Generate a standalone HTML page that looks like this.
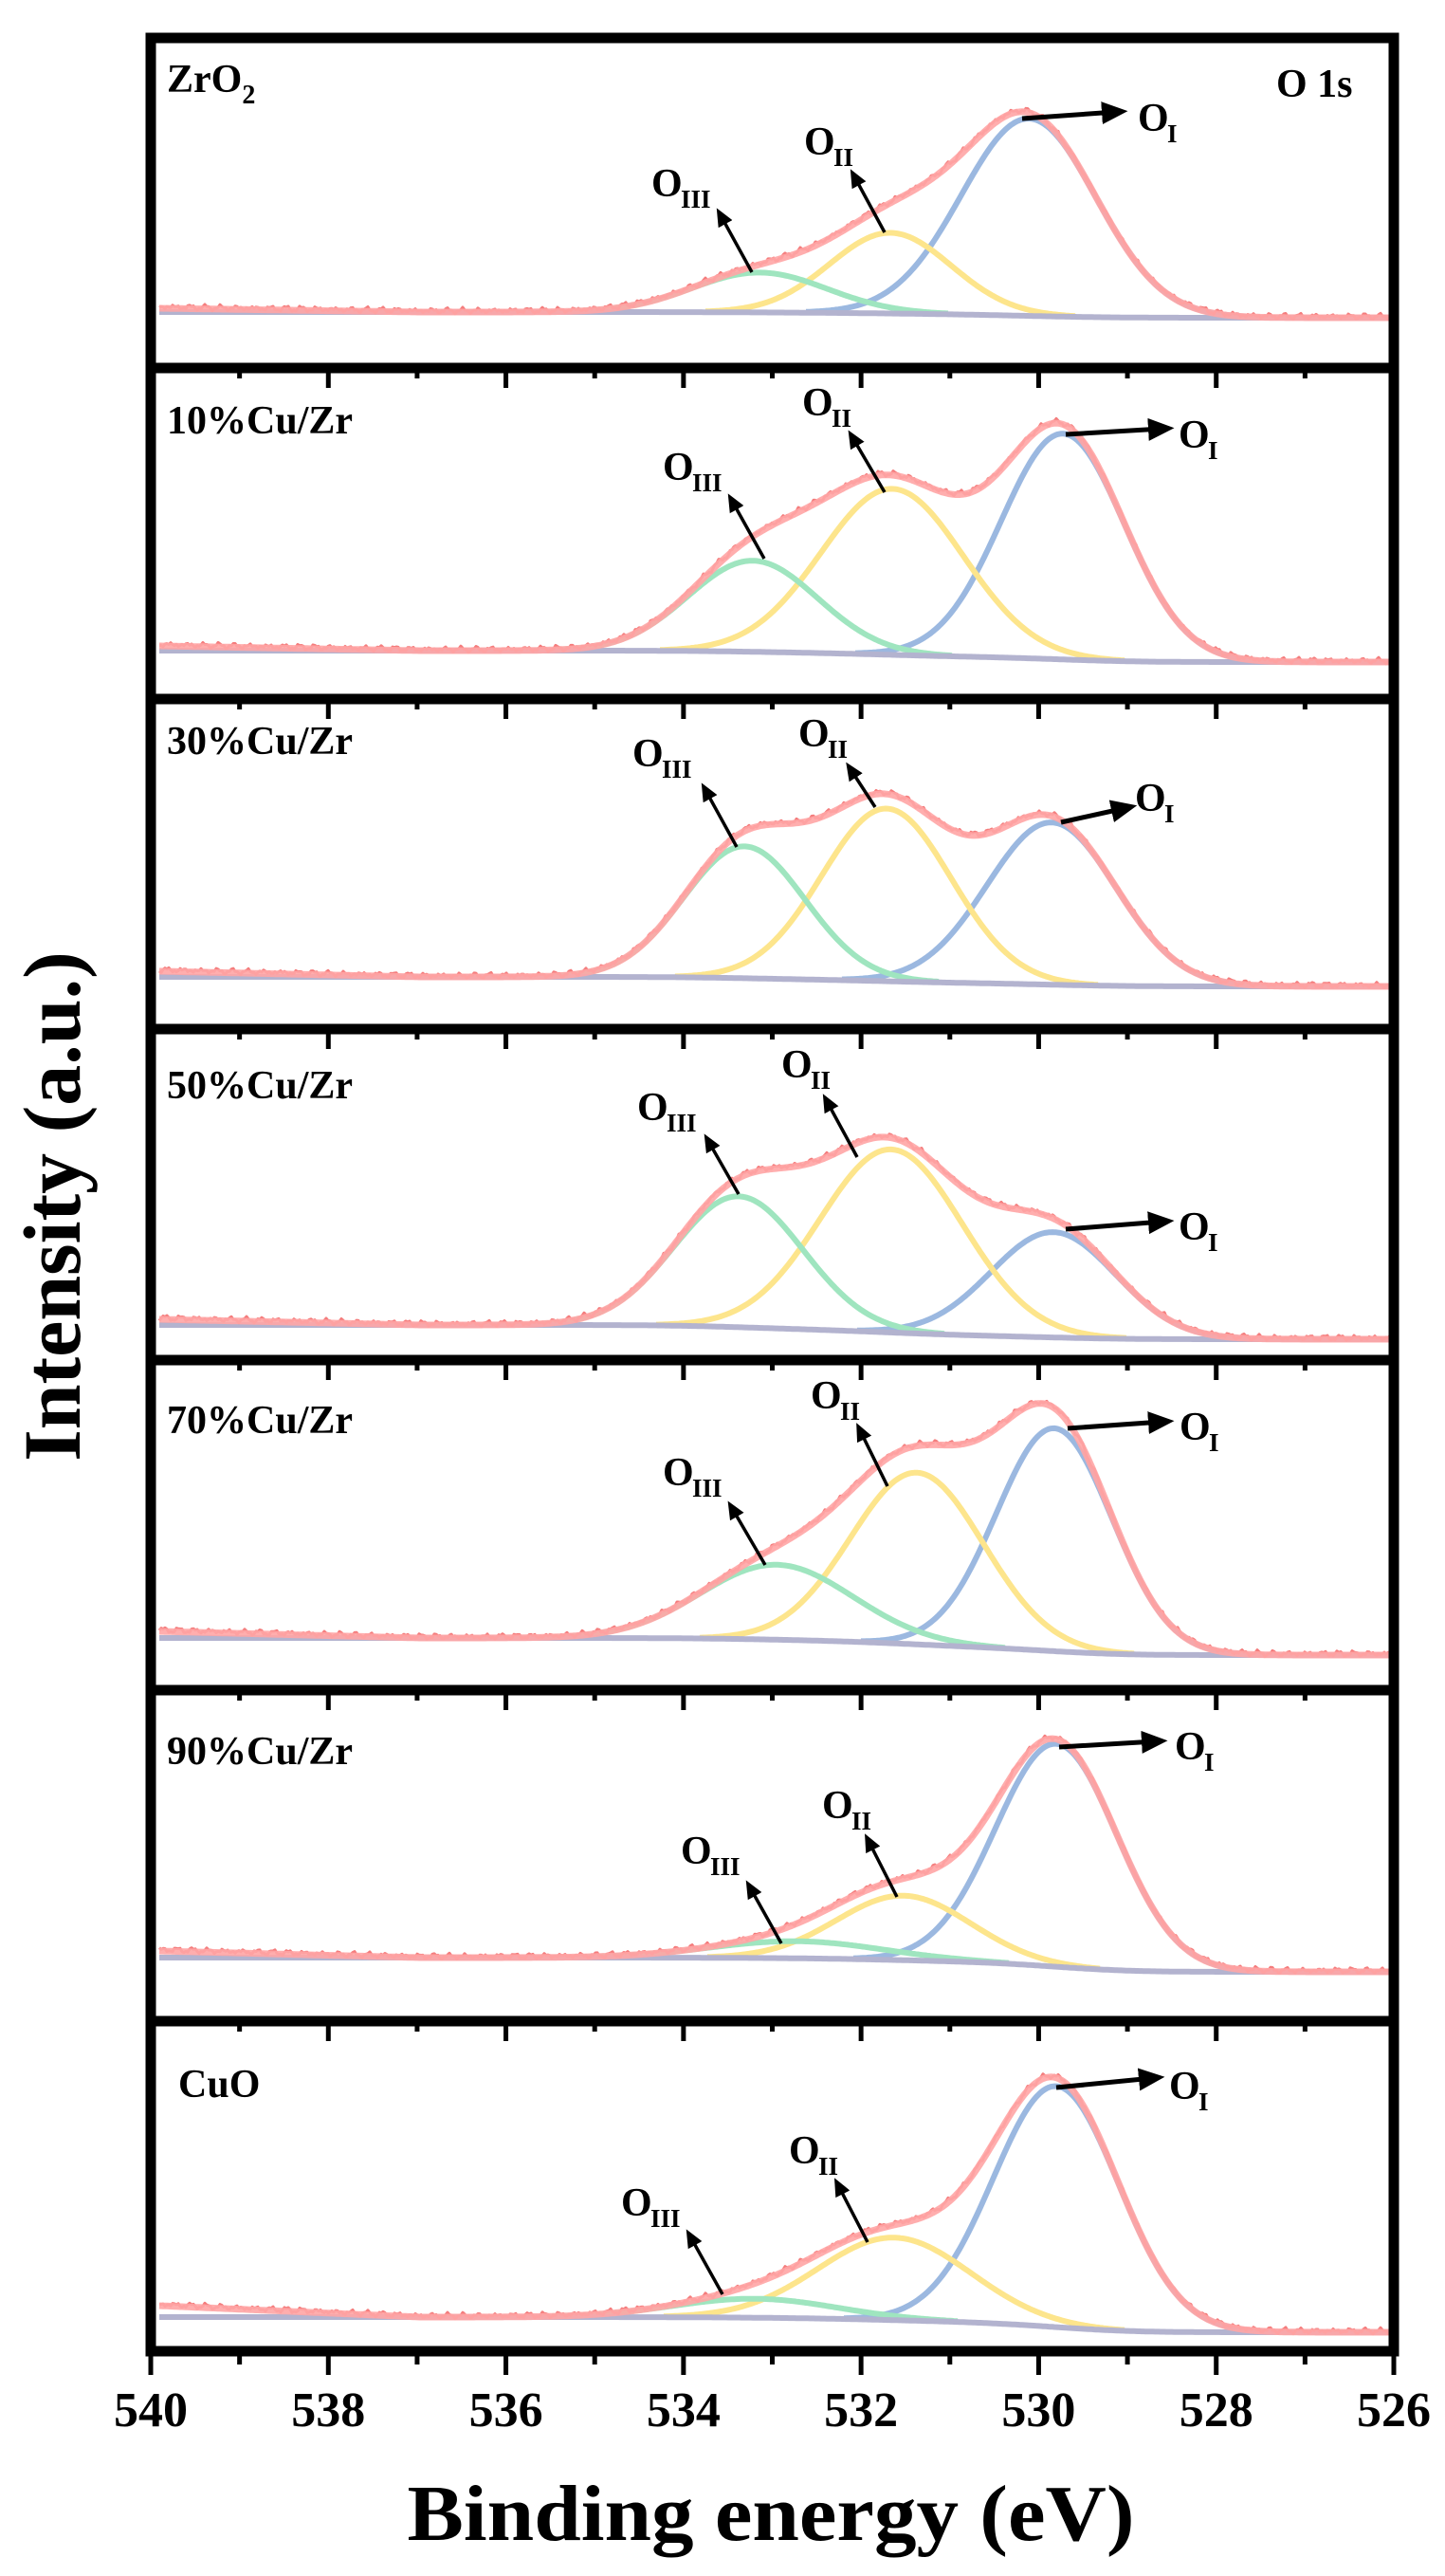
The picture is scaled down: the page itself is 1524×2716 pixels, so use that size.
<!DOCTYPE html>
<html><head><meta charset="utf-8"><style>
html,body{margin:0;padding:0;background:#fff;}
svg{display:block;}
text{font-family:"Liberation Serif","Times New Roman",serif;font-weight:bold;fill:#000;}
</style></head><body>
<svg id="s" width="1524" height="2716" viewBox="0 0 1524 2716" xmlns="http://www.w3.org/2000/svg">
<defs>
<marker id="ah" markerWidth="6" markerHeight="6" refX="3" refY="3" orient="auto" markerUnits="strokeWidth">
<path d="M0,0.6 L5.5,3 L0,5.4 z" fill="#000"/>
</marker>
</defs>
<g id="curves"></g>
<g id="frame"></g>
<g id="ann"></g>
<text x="84" y="1272" font-size="86" text-anchor="middle" transform="rotate(-90 84 1272)">Intensity (a.u.)</text>
<text x="813" y="2678" font-size="84" text-anchor="middle" textLength="767" lengthAdjust="spacingAndGlyphs">Binding energy (eV)</text>
<text x="176" y="97" font-size="42">ZrO<tspan font-size="28" dy="12">2</tspan></text>
</svg>
<script>
var NS="http://www.w3.org/2000/svg";
function el(t,a,p){var e=document.createElementNS(NS,t);for(var k in a)e.setAttribute(k,a[k]);(p||document.getElementById('s')).appendChild(e);return e;}
var C=document.getElementById('curves'),F=document.getElementById('frame'),A=document.getElementById('ann');
var X0=168,X1=1466;
var P=[
{top:40,yL:329,yR:335,lead:4,pk:[[1085,208,71],[939,85,64],[801,42,71]]},
{top:388,yL:686,yR:698,lead:5,pk:[[1121,238,65],[941,175,75],[794,96,68]]},
{top:737,yL:1030,yR:1040,lead:6,pk:[[1109,171,68],[935,182,68],[785,139,64]]},
{top:1085,yL:1397,yR:1412,lead:6,pk:[[1111,111,66],[940,193,75],[779,138,68]]},
{top:1434,yL:1727,yR:1745,lead:7,pk:[[1112,235,61],[967,181,70],[819,79,80]]},
{top:1782,yL:2064,yR:2079,lead:7,pk:[[1114,235,64],[953,68,70],[840,18,90]]},
{top:2131,yL:2443,yR:2459,lead:12,pk:[[1114,254,66],[943,87,80],[796,20,85]]}
];
var cols=['#9bb8e0','#fde58c','#9fe5bf'];
function g(x,p){var d=x-p[0];return p[1]*Math.exp(-d*d/(2*p[2]*p[2]));}
P.forEach(function(q,pi){
  var xs=[],sum=[],cum=[];
  for(var x=X0;x<=X1;x+=2){xs.push(x);var s=0;q.pk.forEach(function(p){s+=g(x,p);});sum.push(s);}
  var tot=0;for(var i=xs.length-1;i>=0;i--){tot+=sum[i];cum[i]=tot;}
  function bg(i){return q.yR+(q.yL-q.yR)*cum[i]/tot;}
  q.pk.forEach(function(p,k){
    var d='';var st=false;
    for(var i=0;i<xs.length;i++){var v=g(xs[i],p);if(v>0.8){d+=(st?'L':'M')+xs[i]+','+(bg(i)-v).toFixed(1);st=true;}}
    el('path',{d:d,fill:'none',stroke:cols[k],'stroke-width':6,'stroke-linejoin':'round'},C);
  });
  var d='';for(var i=0;i<xs.length;i++)d+=(i?'L':'M')+xs[i]+','+bg(i).toFixed(1);
  el('path',{d:d,fill:'none',stroke:'#b3b3cf','stroke-width':6},C);
  var d1='',d2='';
  for(var i=0;i<xs.length;i++){var x=xs[i];var lead=q.lead*Math.max(0,(443-x)/(443-X0));
    var y=bg(i)-sum[i]-lead;
    d1+=(i?'L':'M')+x+','+y.toFixed(1);
    var n=1.6*Math.sin(x*0.37+pi)+1.1*Math.sin(x*1.13+pi*2)+0.8*Math.sin(x*2.7);
    d2+=(i?'L':'M')+x+','+(y+n-1.5).toFixed(1);}
  el('path',{d:d2,fill:'none',stroke:'#f47c7c','stroke-width':3,'stroke-linejoin':'round'},C);
  el('path',{d:d1,fill:'none',stroke:'#ffa5a5','stroke-width':7,'stroke-linejoin':'round','stroke-opacity':0.9},C);
});
var tops=[40,388,737,1085,1434,1782,2131,2479];
el('rect',{x:159,y:40,width:1311,height:2439,fill:'none',stroke:'#000','stroke-width':11},F);
for(var i=1;i<7;i++)el('line',{x1:159,y1:tops[i],x2:1470,y2:tops[i],stroke:'#000','stroke-width':11},F);
var sc=1311/14;
for(var i=1;i<8;i++){
  var y=tops[i]+5;
  for(var e=0;e<=14;e++){var x=159+e*sc;var maj=(e%2==0);
    var len=(i==7)?(maj?20:9):(maj?16:6);
    el('line',{x1:x,y1:y,x2:x,y2:y+len,stroke:'#000','stroke-width':5},F);}
}
var lab=['540','538','536','534','532','530','528','526'];
lab.forEach(function(t,k){var e=el('text',{x:159+k*2*sc,y:2558,'font-size':52,'text-anchor':'middle'},F);e.textContent=t;});
function txt(x,y,t,sz){var e=el('text',{x:x,y:y,'font-size':sz},A);e.textContent=t;}
function O(x,y,sub){txt(x,y,'O',42);txt(x+31,y+12,sub,27);}
function arr(x1,y1,x2,y2,w){el('line',{x1:x1,y1:y1,x2:x2,y2:y2,stroke:'#000','stroke-width':w||3.5,'marker-end':'url(#ah)'},A);}
var names=['','10%Cu/Zr','30%Cu/Zr','50%Cu/Zr','70%Cu/Zr','90%Cu/Zr','CuO'];
var nb=[97,457,795,1158,1511,1860,2211];
names.forEach(function(n,i){if(n)txt(i==6?188:176,nb[i],n,42);});
txt(1346,102,'O 1s',42);
var an=[
 [[1078,125,1177,118,1200,138],[933,245,901,186,848,163],[793,287,760,227,687,207]],
 [[1124,458,1226,452,1243,472],[933,519,899,461,846,438],[806,589,772,528,699,506]],
 [[1119,867,1187,852,1197,855],[923,851,897,811,842,787],[777,893,744,833,667,808]],
 [[1124,1296,1226,1288,1243,1307],[904,1220,872,1161,824,1136],[779,1259,747,1203,672,1181]],
 [[1126,1506,1226,1499,1244,1518],[936,1567,907,1508,855,1485],[807,1650,772,1590,699,1566]],
 [[1117,1842,1219,1836,1239,1855],[946,2000,916,1941,867,1917],[824,2049,791,1990,718,1965]],
 [[1114,2201,1216,2191,1233,2213],[915,2364,884,2304,832,2281],[762,2419,728,2358,655,2336]]
];
var subs=['I','II','III'];
an.forEach(function(p){p.forEach(function(a,k){arr(a[0],a[1],a[2],a[3],k==0?5:3.5);O(a[4],a[5],subs[k]);});});
</script>
</body></html>
